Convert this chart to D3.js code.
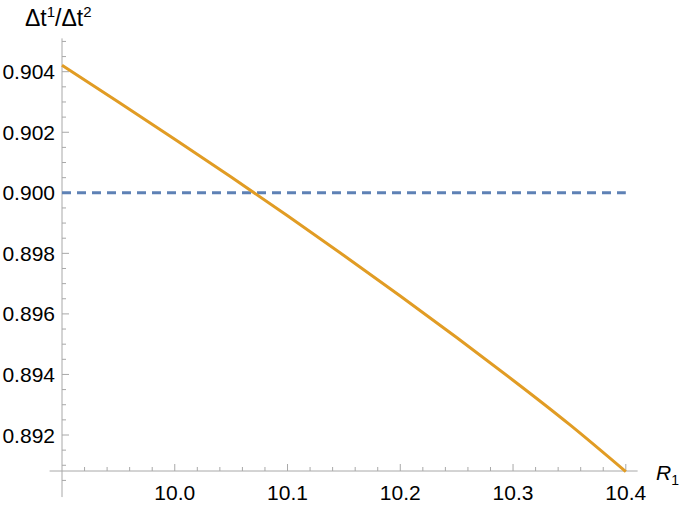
<!DOCTYPE html>
<html>
<head>
<meta charset="utf-8">
<script src="https://cdn.jsdelivr.net/npm/d3@7"></script>
<style>
  html, body { margin: 0; padding: 0; background: #fff; }
  svg { display: block; }
  text { font-family: "Liberation Sans", Arial, sans-serif; fill: #000; }
</style>
</head>
<body>
<svg id="chart" width="681" height="507"></svg>
<script>
// Data
const rValues = [9.90, 9.95, 10.00, 10.05, 10.10, 10.15, 10.20, 10.25, 10.30, 10.35, 10.40];
const ratioValues = [0.90421, 0.90300, 0.90177, 0.90052, 0.89924, 0.89793, 0.89659, 0.89522, 0.89381, 0.89235, 0.89079];
const referenceLevel = 0.900;
const xTickValues = [10.0, 10.1, 10.2, 10.3, 10.4];
const xTickLabels = ["10.0", "10.1", "10.2", "10.3", "10.4"];
const yTickValues = [0.892, 0.894, 0.896, 0.898, 0.900, 0.902, 0.904];
const yTickLabels = ["0.892", "0.894", "0.896", "0.898", "0.900", "0.902", "0.904"];
const xMinorStep = 0.02;
const yMinorStep = 0.0005;

const svg = d3.select("#chart");
const x = d3.scaleLinear().domain([9.9, 10.4]).range([62, 625.8]);
const y = d3.scaleLinear().domain([0.892, 0.904]).range([435, 71.7]);

const axisColor = "#a8a8a8";
const xAxisY = 471;
const yAxisX = 62;

// Axis lines
svg.append("line")
  .attr("x1", x(9.889)).attr("x2", x(10.4105))
  .attr("y1", xAxisY).attr("y2", xAxisY)
  .attr("stroke", axisColor).attr("stroke-width", 1);
svg.append("line")
  .attr("x1", yAxisX).attr("x2", yAxisX)
  .attr("y1", y(0.9051)).attr("y2", y(0.88995))
  .attr("stroke", axisColor).attr("stroke-width", 1);

// X ticks
const xMinor = d3.range(9.92, 10.401, xMinorStep).filter(v => !xTickValues.some(t => Math.abs(t - v) < 1e-6));
svg.append("g").selectAll("line").data(xMinor).join("line")
  .attr("x1", d => x(d)).attr("x2", d => x(d))
  .attr("y1", xAxisY).attr("y2", xAxisY - 4)
  .attr("stroke", axisColor);
svg.append("g").selectAll("line").data(xTickValues).join("line")
  .attr("x1", d => x(d)).attr("x2", d => x(d))
  .attr("y1", xAxisY).attr("y2", xAxisY - 7)
  .attr("stroke", axisColor);
svg.append("g").selectAll("text").data(xTickValues).join("text")
  .attr("x", d => x(d)).attr("y", 500)
  .attr("text-anchor", "middle")
  .attr("font-size", 21)
  .text((d, i) => xTickLabels[i]);

// Y ticks
const yMinor = d3.range(0.8905, 0.90501, yMinorStep).filter(v => !yTickValues.some(t => Math.abs(t - v) < 1e-7));
svg.append("g").selectAll("line").data(yMinor).join("line")
  .attr("x1", yAxisX).attr("x2", yAxisX + 4)
  .attr("y1", d => y(d)).attr("y2", d => y(d))
  .attr("stroke", axisColor);
svg.append("g").selectAll("line").data(yTickValues).join("line")
  .attr("x1", yAxisX).attr("x2", yAxisX + 7)
  .attr("y1", d => y(d)).attr("y2", d => y(d))
  .attr("stroke", axisColor);
svg.append("g").selectAll("text").data(yTickValues).join("text")
  .attr("x", 55).attr("y", d => y(d) + 7.5)
  .attr("text-anchor", "end")
  .attr("font-size", 21)
  .text((d, i) => yTickLabels[i]);

// Reference dashed line
svg.append("line")
  .attr("x1", x(9.9)).attr("x2", x(10.4))
  .attr("y1", y(referenceLevel)).attr("y2", y(referenceLevel))
  .attr("stroke", "#5e81b5").attr("stroke-width", 3)
  .attr("stroke-dasharray", "9,6");

// Curve
const pts = rValues.map((r, i) => [r, ratioValues[i]]);
const line = d3.line().x(d => x(d[0])).y(d => y(d[1])).curve(d3.curveNatural);
svg.append("path")
  .attr("d", line(pts))
  .attr("fill", "none")
  .attr("stroke", "#e19c24")
  .attr("stroke-width", 3);

// Axis labels
const yl = svg.append("text").attr("x", 25).attr("y", 26).attr("font-size", 23);
yl.append("tspan").text("Δt");
yl.append("tspan").attr("font-size", 15).attr("dy", -9).text("1");
yl.append("tspan").attr("dy", 9).text("/Δt");
yl.append("tspan").attr("font-size", 15).attr("dy", -9).text("2");

const xl = svg.append("text").attr("x", 656).attr("y", 480).attr("font-size", 21);
xl.append("tspan").attr("font-style", "italic").text("R");
xl.append("tspan").attr("font-size", 14).attr("dy", 5).text("1");
</script>
</body>
</html>
